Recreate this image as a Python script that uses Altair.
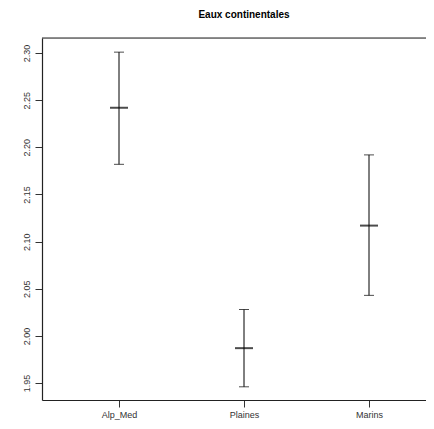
import altair as alt
import pandas as pd

groups = ["Alp_Med", "Plaines", "Marins"]
means = [2.242, 1.987, 2.117]
lowers = [2.182, 1.946, 2.043]
uppers = [2.301, 2.028, 2.192]
y_ticks = [1.95, 2.00, 2.05, 2.10, 2.15, 2.20, 2.25, 2.30]

df = pd.DataFrame({"group": groups, "mean": means, "lower": lowers, "upper": uppers})

xenc = alt.X("group:N", sort=groups, title=None,
             scale=alt.Scale(type="point", padding=0.616),
             axis=alt.Axis(labelAngle=0, labelFontSize=9, labelColor="#333",
                           tickColor="#333", tickSize=7, labelPadding=3,
                           domain=True, domainColor="#222", domainWidth=1.2,
                           grid=False, labelFont="Liberation Sans"))
yscale = alt.Scale(domain=[1.932, 2.316], nice=False, zero=False)
yaxis = alt.Axis(values=y_ticks, format=".2f", labelAngle=270, labelFontSize=9,
                 labelColor="#333", tickColor="#333", tickSize=7, labelPadding=4,
                 labelAlign="center", labelBaseline="bottom",
                 domain=True, domainColor="#222", domainWidth=1.2,
                 grid=False, title=None, labelFont="Liberation Sans")

base = alt.Chart(df)
rule = base.mark_rule(color="black", strokeWidth=1).encode(
    x=xenc, y=alt.Y("lower:Q", scale=yscale, axis=yaxis), y2="upper:Q")
cap_lo = base.mark_tick(color="black", size=10, thickness=1, orient="horizontal").encode(
    x=xenc, y=alt.Y("lower:Q", scale=yscale))
cap_hi = base.mark_tick(color="black", size=10, thickness=1, orient="horizontal").encode(
    x=xenc, y=alt.Y("upper:Q", scale=yscale))
mid = base.mark_tick(color="black", size=18, thickness=2, orient="horizontal").encode(
    x=xenc, y=alt.Y("mean:Q", scale=yscale))
top = alt.Chart(pd.DataFrame({"a": [0]})).mark_rule(color="#222", strokeWidth=1.2).encode(
    x=alt.value(0), x2=alt.value(404), y=alt.value(0))

chart = alt.layer(rule, cap_lo, cap_hi, mid, top).properties(
    width=404, height=362,
    title=alt.TitleParams("Eaux continentales", fontSize=10, fontWeight="bold",
                          font="Liberation Sans", anchor="middle", offset=17),
    autosize=alt.AutoSizeParams(type="none"),
    padding={"left": 34, "top": 30, "right": -20, "bottom": 20},
).configure_view(stroke=None).configure(background="white")

chart.save("out.html", embed_options={"renderer": "svg", "actions": False})
